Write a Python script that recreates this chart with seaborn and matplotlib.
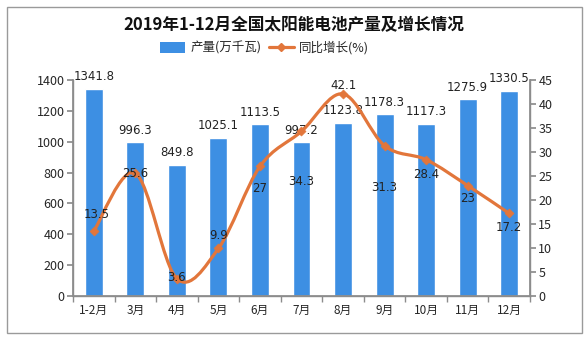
import numpy as np
import pandas as pd
import matplotlib
matplotlib.use("Agg")
import matplotlib.pyplot as plt
from matplotlib.path import Path
from matplotlib.patches import PathPatch, Rectangle
from matplotlib.lines import Line2D
from matplotlib.ticker import FixedLocator, NullFormatter
import seaborn as sns

months = ["1-2月", "3月", "4月", "5月", "6月", "7月", "8月", "9月", "10月", "11月", "12月"]
output = [1341.8, 996.3, 849.8, 1025.1, 1113.5, 997.2, 1123.8, 1178.3, 1117.3, 1275.9, 1330.5]
growth = [13.5, 25.6, 3.6, 9.9, 27, 34.3, 42.1, 31.3, 28.4, 23, 17.2]
title = "2019年1-12月全国太阳能电池产量及增长情况"
bar_name = "产量(万千瓦)"
line_name = "同比增长(%)"

# label offsets (points) for growth labels
growth_label_off = [(2, 12), (0, 0), (0, 1), (0, 9), (0, -16), (0, -36), (0, 6), (0, -30), (0, -11), (0, -9), (0, -10)]

sns.set_theme(style="white")
plt.rcParams["font.family"] = ["Noto Sans CJK SC", "DejaVu Sans"]

BLUE = "#3d8fe3"
ORANGE = "#e2763b"
GRAY = "#8c8c8c"

fig = plt.figure(figsize=(5.88, 3.41), dpi=100)
fig.patch.set_facecolor("white")
fig.patches.append(Rectangle((7 / 588, 8 / 341), 575 / 588, 326 / 341, transform=fig.transFigure,
                             fill=False, edgecolor="#9a9a9a", linewidth=1.0))

ax = fig.add_axes([73 / 588, 45 / 341, 457 / 588, 216 / 341])
df = pd.DataFrame({"month": months, "output": output, "growth": growth})
sns.barplot(data=df, x="month", y="output", color=BLUE, saturation=1, width=0.43, ax=ax, zorder=2)
ax.set_xlim(-0.5, len(months) - 0.5)
ax.set_ylim(0, 1400)
ax.set_yticks(np.arange(0, 1401, 200))
ax.set_xlabel("")
ax.set_ylabel("")
for s in ["top"]:
    ax.spines[s].set_visible(False)
for s in ["left", "bottom", "right"]:
    ax.spines[s].set_color(GRAY)
    ax.spines[s].set_linewidth(1.0)
ax.tick_params(axis="y", which="major", direction="out", length=4, color=GRAY, labelsize=9, pad=2, left=True)
ax.tick_params(axis="x", which="major", length=0, labelsize=8.5, pad=6)
ax.xaxis.set_minor_locator(FixedLocator(np.arange(-0.5, len(months), 1.0)))
ax.xaxis.set_minor_formatter(NullFormatter())
ax.tick_params(axis="x", which="minor", direction="out", length=4, color=GRAY, bottom=True)

for i, v in enumerate(output):
    ax.annotate(f"{v}", (i, v), xytext=(0, 4), textcoords="offset points", ha="center", va="bottom",
                fontsize=8.5, color="#222222", family="DejaVu Sans")

ax2 = ax.twinx()
ax2.set_ylim(0, 45)
ax2.set_yticks(np.arange(0, 46, 5))
ax2.tick_params(axis="y", direction="out", length=4, color=GRAY, labelsize=9, pad=2, right=True)
ax2.spines["top"].set_visible(False)
for s in ["left", "bottom", "right"]:
    ax2.spines[s].set_color(GRAY)
ax2.grid(False)
ax.grid(False)

# smooth Catmull-Rom style curve through the growth points
pts = np.column_stack([np.arange(len(growth)), growth]).astype(float)
ext = np.vstack([pts[0], pts, pts[-1]])
verts = [tuple(pts[0])]
codes = [Path.MOVETO]
for k in range(len(pts) - 1):
    p0, p1, p2, p3 = ext[k], ext[k + 1], ext[k + 2], ext[k + 3]
    c1 = p1 + (p2 - p0) / 6.0
    c2 = p2 - (p3 - p1) / 6.0
    verts += [tuple(c1), tuple(c2), tuple(p2)]
    codes += [Path.CURVE4] * 3
ax2.add_patch(PathPatch(Path(verts, codes), fill=False, edgecolor=ORANGE, linewidth=2.3, zorder=3,
                        capstyle="round", joinstyle="round"))
sns.scatterplot(x=np.arange(len(growth)), y=growth, ax=ax2, color=ORANGE, marker="D", s=22,
                edgecolor=ORANGE, zorder=4, legend=False)
ax2.set_xlim(-0.5, len(months) - 0.5)

for i, v in enumerate(growth):
    dx, dy = growth_label_off[i]
    ax2.annotate(f"{v:g}", (i, v), xytext=(dx, dy), textcoords="offset points", ha="center", va="center",
                 fontsize=8.5, color="#222222", family="DejaVu Sans", zorder=5)

fig.text(0.5, 1 - 25 / 341, title, ha="center", va="center", fontsize=12, fontweight="bold", color="#111111")

handles = [Rectangle((0, 0), 1, 1, facecolor=BLUE, edgecolor="none"),
           Line2D([0], [0], color=ORANGE, lw=2.3, marker="D", markersize=4)]
fig.legend(handles, [bar_name, line_name], loc="center", bbox_to_anchor=(0.45, 1 - 48 / 341), ncol=2,
           frameon=False, fontsize=9, handlelength=2.0, handleheight=1.0, columnspacing=0.6, handletextpad=0.4)

fig.savefig("out.png", dpi=100, facecolor="white")
